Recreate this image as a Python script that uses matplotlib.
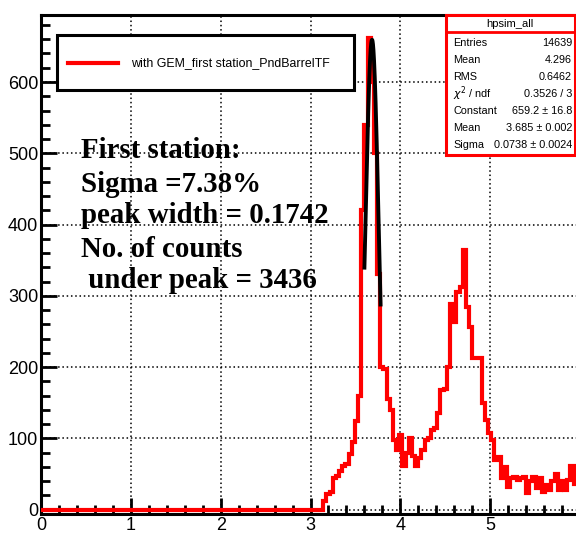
import numpy as np
import matplotlib.pyplot as plt
from matplotlib.patches import Rectangle
from matplotlib.ticker import MultipleLocator

# hpsim_all: 170 bins on [0, 6]; bins below index 89 are empty
n_bins = 170
x_lo, x_hi = 0.0, 6.0
first_bin = 89
counts = [12, 22, 25, 45, 48, 55, 62, 64, 78, 95,
          124, 160, 420, 540, 662, 600, 500, 330, 200, 198,
          155, 140, 98, 84, 105, 62, 80, 100, 75, 62,
          72, 84, 98, 100, 112, 115, 136, 168, 170, 200,
          288, 264, 305, 312, 365, 285, 257, 213, 213, 213,
          150, 126, 108, 98, 70, 74, 45, 60, 32, 44,
          46, 42, 44, 46, 24, 40, 46, 30, 45, 25,
          35, 28, 40, 50, 28, 40, 28, 42, 62, 36,
          55]

# gaussian fit on the first peak
fit_const, fit_mean, fit_sigma = 659.2, 3.685, 0.0738
fit_range = (3.60, 3.78)

stat_labels = ["Entries", "Mean", "RMS", r"$\chi^2$ / ndf", "Constant", "Mean", "Sigma"]
stat_values = ["14639", "4.296", "0.6462", "0.3526 / 3",
               "659.2 ± 16.8", "3.685 ± 0.002", "0.0738 ± 0.0024"]

note_lines = ["First station:", "Sigma =7.38%", "peak width = 0.1742",
              "No. of counts", " under peak = 3436"]

narrow = ['Liberation Sans Narrow', 'Liberation Sans', 'DejaVu Sans']

W, H = 576, 534
fig = plt.figure(figsize=(W / 100, H / 100), dpi=100)


def fx(px):
    return px / W


def fy(py):
    return 1 - py / H


# frame: a little room under zero so the empty bins show above the axis line
ax = fig.add_axes([fx(41), fy(514), fx(580) - fx(41), fy(15) - fy(514)])

edges = np.linspace(x_lo, x_hi, n_bins + 1)
values = np.zeros(n_bins)
values[first_bin:first_bin + len(counts)] = counts

ax.stairs(values, edges, color='red', lw=3.0, zorder=3)

xf = np.linspace(fit_range[0], fit_range[1], 300)
yf = fit_const * np.exp(-0.5 * ((xf - fit_mean) / fit_sigma) ** 2)
ax.plot(xf, yf, color='black', lw=2.8, zorder=4)

ax.set_xlim(x_lo, x_hi)
ax.set_ylim(-6, 694)
ax.xaxis.set_major_locator(MultipleLocator(1))
ax.xaxis.set_minor_locator(MultipleLocator(0.2))
ax.yaxis.set_major_locator(MultipleLocator(100))
ax.yaxis.set_minor_locator(MultipleLocator(20))
ax.grid(True, which='major', color='black', lw=1.1, linestyle=(0, (1, 1.8)), zorder=1)
ax.set_axisbelow(True)
ax.tick_params(which='both', direction='in', width=2, colors='black')
ax.tick_params(which='major', length=11.5, labelsize=13, pad=2)
ax.tick_params(which='minor', length=6.5)
for lab in ax.get_xticklabels() + ax.get_yticklabels():
    lab.set_family(narrow)
for sp in ax.spines.values():
    sp.set_linewidth(2.2)

# legend box
fig.patches.append(Rectangle((fx(57), fy(90)), fx(354) - fx(57), fy(35) - fy(90),
                             transform=fig.transFigure, facecolor='white',
                             edgecolor='black', lw=2.2, zorder=5))
fig.lines.append(plt.Line2D([fx(68), fx(118)], [fy(63), fy(63)],
                            transform=fig.transFigure, color='red', lw=3, zorder=6))
fig.text(fx(131), fy(63), "with GEM_first station_PndBarrelTF", family=narrow,
         fontsize=8.9, va='center', ha='left', zorder=6)

# statistics box
fig.patches.append(Rectangle((fx(446), fy(155)), fx(575) - fx(446), fy(15) - fy(155),
                             transform=fig.transFigure, facecolor='white',
                             edgecolor='red', lw=2.2, zorder=5))
fig.lines.append(plt.Line2D([fx(446), fx(575)], [fy(32), fy(32)],
                            transform=fig.transFigure, color='red', lw=2, zorder=6))
fig.text(fx(510), fy(24), "hpsim_all", family=narrow, fontsize=8,
         ha='center', va='center', zorder=6)
row_y = [43, 60, 77, 94, 111, 128, 145]
for lab, val, yy in zip(stat_labels, stat_values, row_y):
    fig.text(fx(453), fy(yy), lab, family=narrow, fontsize=7.8,
             ha='left', va='center', zorder=6)
    fig.text(fx(572), fy(yy), val, family=narrow, fontsize=7.8,
             ha='right', va='center', zorder=6)

# peak summary
base_y = [158, 192, 223, 257, 288]
for line, yy in zip(note_lines, base_y):
    fig.text(fx(81), fy(yy), line, family='Liberation Serif', weight='bold',
             fontsize=20.8, ha='left', va='baseline', zorder=6)

fig.savefig('out.png', dpi=100)
